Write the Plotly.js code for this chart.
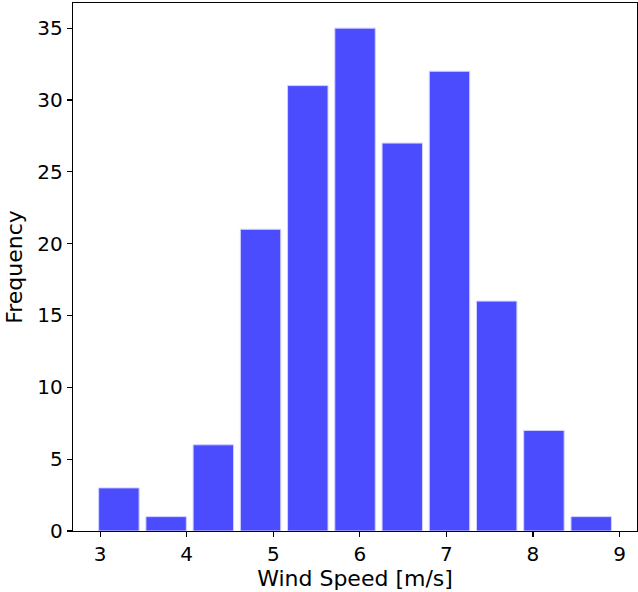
<!DOCTYPE html>
<html>
<head>
<meta charset="utf-8">
<script src="https://cdn.plot.ly/plotly-3.0.1.min.js"></script>
<style>html,body{margin:0;padding:0;background:#fff;}#chart{width:638px;height:592px;}</style>
</head>
<body>
<div id="chart"></div>
<script>
// Histogram bin edges (m/s) and counts
const binEdges = [2.944, 3.490, 4.035, 4.581, 5.126, 5.672, 6.218, 6.763, 7.309, 7.854, 8.400, 8.946];
const counts = [3, 1, 6, 21, 31, 35, 27, 32, 16, 7, 1];
const xTickVals = [3, 4, 5, 6, 7, 8, 9];
const yTickVals = [0, 5, 10, 15, 20, 25, 30, 35];

const rwidth = 0.856;
const centers = counts.map((_, i) => (binEdges[i] + binEdges[i + 1]) / 2);
const widths = counts.map((_, i) => (binEdges[i + 1] - binEdges[i]) * rwidth);

const font = {family: 'DejaVu Sans, sans-serif', size: 20, color: '#000'};
const titleFont = {family: 'DejaVu Sans, sans-serif', size: 22, color: '#000'};

Plotly.newPlot('chart', [{
  type: 'bar',
  x: centers,
  y: counts,
  width: widths,
  marker: {color: 'rgb(76,76,255)', line: {color: 'rgba(210,210,255,1)', width: 1}},
  hoverinfo: 'x+y'
}], {
  width: 638, height: 592,
  margin: {l: 73, r: 1, t: 3, b: 61},
  paper_bgcolor: '#fff', plot_bgcolor: '#fff',
  font: font,
  showlegend: false,
  xaxis: {
    range: [2.687, 9.202],
    tickvals: xTickVals,
    ticktext: xTickVals.map(String),
    ticks: 'outside', ticklen: 5, tickwidth: 1.2, tickcolor: '#000',
    showline: true, linecolor: '#000', linewidth: 1.2, mirror: true,
    showgrid: false, zeroline: false,
    tickfont: font,
    title: {text: 'Wind Speed [m/s]', font: titleFont, standoff: 4},
    automargin: false
  },
  yaxis: {
    range: [0, 36.75],
    tickvals: yTickVals,
    ticktext: yTickVals.map(String),
    ticks: 'outside', ticklen: 5, tickwidth: 1.2, tickcolor: '#000',
    showline: true, linecolor: '#000', linewidth: 1.2, mirror: true,
    showgrid: false, zeroline: false,
    tickfont: font,
    title: {text: 'Frequency', font: titleFont, standoff: 8},
    automargin: false
  }
}, {displayModeBar: false, staticPlot: true});
</script>
</body>
</html>
